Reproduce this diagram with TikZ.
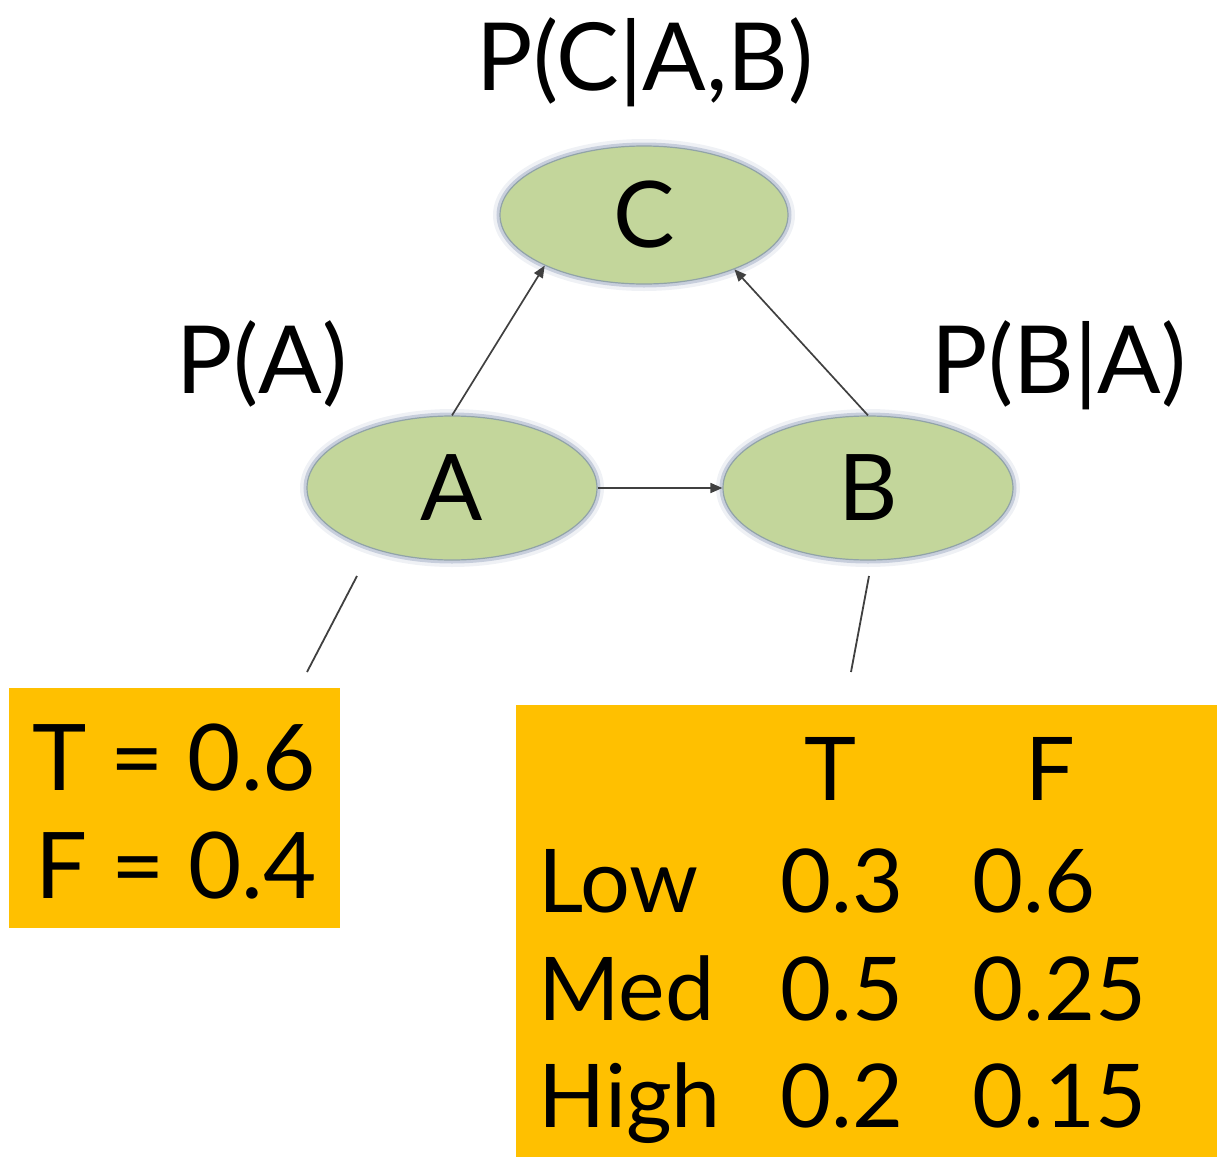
\documentclass[tikz,border=0pt]{standalone}
\usepackage{fontspec}
\setmainfont{Lato}
\usetikzlibrary{shapes.geometric,arrows.meta}
\definecolor{nodegreen}{HTML}{C3D69B}
\definecolor{halo}{HTML}{7C8DAE}
\definecolor{cptorange}{HTML}{FFC000}
\definecolor{edgegray}{HTML}{404040}
\begin{document}
\begin{tikzpicture}[x=0.5pt,y=-0.5pt,
  varnode/.style={ellipse, fill=nodegreen, draw=halo!70!nodegreen, line width=0.6pt,
    preaction={draw=halo, line width=7pt, opacity=0.12},
    preaction={draw=halo, line width=3.5pt, opacity=0.35},
    inner sep=0pt, font=\fontsize{46}{54}\selectfont},
  problabel/.style={anchor=base, inner sep=0pt, font=\fontsize{47}{54}\selectfont},
  cptbox/.style={rectangle, fill=cptorange, inner sep=0pt},
  cpttext/.style={inner sep=0pt, font=\fontsize{44}{54}\selectfont},
  arc/.style={draw=edgegray, line width=0.85pt, -{Triangle[length=6pt,width=5pt]}},
  link/.style={draw=edgegray, line width=0.9pt}
]
\useasboundingbox (0,0) rectangle (1217,1157);

% variables
\node[varnode, minimum width=144pt, minimum height=69pt] (C) at (644,215) {C};
\node[varnode, minimum width=145pt, minimum height=72pt] (A) at (452,488) {A};
\node[varnode, minimum width=145pt, minimum height=72pt] (B) at (868,488) {B};

% distribution labels
\node[problabel] (lc) at (645,90) {P(C|A,B)};
\node[problabel] (la) at (262,393) {P(A)};
\node[problabel] (lb) at (1059,393) {P(B|A)};

% dependencies
\draw[arc] (A.north) -- (C.207);
\draw[arc] (B.north) -- (C.329);
\draw[arc] (A.east) -- (B.west);

% table of A
\node[cptbox, minimum width=165.5pt, minimum height=120pt] (pa) at (174.5,808) {};
\node[cpttext, anchor=base, font=\fontsize{46}{54}\selectfont] (pat) at (174.5,790) {T = 0.6};
\node[cpttext, anchor=base, font=\fontsize{46}{54}\selectfont] (paf) at (176,898) {F = 0.4};

% table of B given A
\node[cptbox, minimum width=350.5pt, minimum height=226pt] (pb) at (866.5,931) {};
\node[cpttext, anchor=base] (hT) at (830,800) {T};
\node[cpttext, anchor=base] (hF) at (1050,800) {F};
\node[cpttext, anchor=base west] (r1) at (538,912) {Low};
\node[cpttext, anchor=base west] (r2) at (538,1020) {Med};
\node[cpttext, anchor=base west] (r3) at (538,1127) {High};
\node[cpttext, anchor=base west] (t1) at (780,912) {0.3};
\node[cpttext, anchor=base west] (t2) at (780,1020) {0.5};
\node[cpttext, anchor=base west] (t3) at (780,1127) {0.2};
\node[cpttext, anchor=base west] (f1) at (972,912) {0.6};
\node[cpttext, anchor=base west] (f2) at (972,1020) {0.25};
\node[cpttext, anchor=base west] (f3) at (972,1127) {0.15};

% leader lines from the variables to their tables
\coordinate (a1) at (357,576);
\coordinate (a2) at (307,672);
\coordinate (b1) at (869,576);
\coordinate (b2) at (851,672);
\draw[link] (a1) -- (a2);
\draw[link] (b1) -- (b2);
\end{tikzpicture}
\end{document}
